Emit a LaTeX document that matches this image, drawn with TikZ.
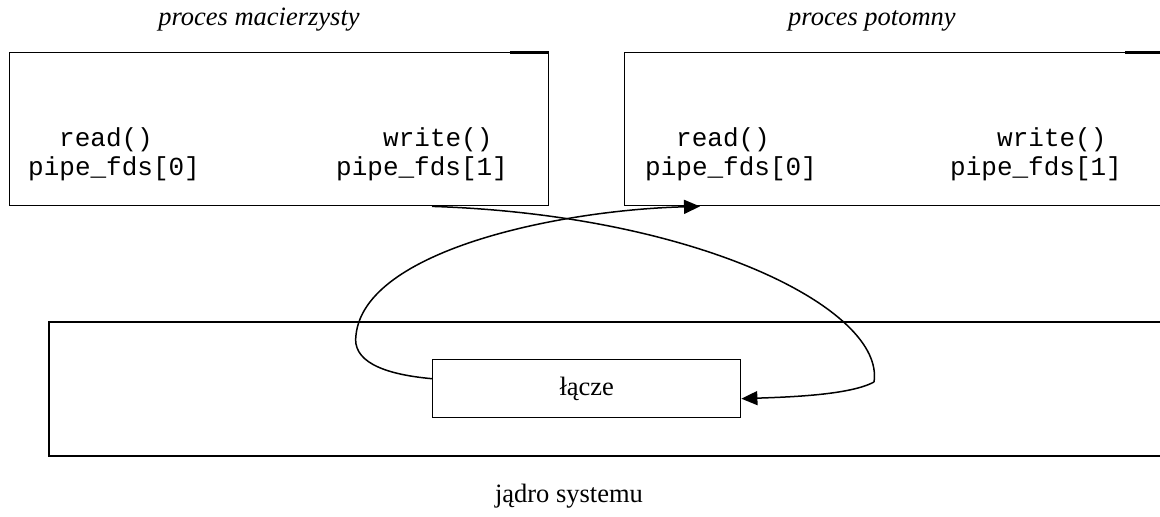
\documentclass[tikz,border=0pt]{standalone}
\usepackage{fontspec}
\setmainfont{Liberation Serif}
\setmonofont{Liberation Mono}
\usetikzlibrary{arrows.meta}
\begin{document}
\begin{tikzpicture}[x=1pt,y=-1pt,
  box/.style={draw, line width=1.4pt, rectangle, inner sep=0pt, anchor=north west},
  conn/.style={line width=1.5pt},
  tipend/.style={-{Triangle[length=16pt,width=14pt]}},
  code/.style={font=\fontsize{26}{30}\selectfont\ttfamily, anchor=base west, inner sep=0pt},
  lbl/.style={font=\fontsize{26.5}{30}\selectfont, anchor=base, inner sep=0pt}]
\useasboundingbox (0,0) rectangle (1160,517);
\clip (0,0) rectangle (1160,517);
% process boxes
\node[box, minimum width=539pt, minimum height=153pt] (parent) at (9,52) {};
\node[box, minimum width=539pt, minimum height=153pt] (child) at (624,52) {};
\draw[line width=3pt] ([xshift=-39pt]parent.north east) -- (parent.north east);
\draw[line width=3pt] ([xshift=-39pt]child.north east) -- (child.north east);
% kernel
\node[box, line width=2pt, minimum width=1140pt, minimum height=134pt] (kernel) at (48,321) {};
\node[box, minimum width=308pt, minimum height=58pt, font=\fontsize{26.5}{30}\selectfont] (pipe) at (432,359) {łącze};
% labels
\node[lbl, font=\fontsize{26.5}{30}\selectfont\itshape] (lparent) at (259,25) {proces macierzysty};
\node[lbl, font=\fontsize{26.5}{30}\selectfont\itshape] (lchild) at (872,25) {proces potomny};
\node[lbl] (lkernel) at (569,502) {jądro systemu};
% code texts
\node[code] (pr) at (59,146) {read()};
\node[code] (pf0) at (28,175) {pipe\_fds[0]};
\node[code] (pw) at (383,146) {write()};
\node[code] (pf1) at (336,175) {pipe\_fds[1]};
\node[code] (cr) at (676,146) {read()};
\node[code] (cf0) at (645,175) {pipe\_fds[0]};
\node[code] (cw) at (997,146) {write()};
\node[code] (cf1) at (950,175) {pipe\_fds[1]};
% connector ends
\coordinate (aStart) at ([yshift=10pt]pipe.west);
\coordinate (aEnd) at ([xshift=76pt]child.south west);
\coordinate (bStart) at ([xshift=423pt]parent.south west);
\coordinate (bKink) at (874,382);
\coordinate (bEnd) at ([yshift=-10pt]pipe.east);
\draw[conn, tipend] (aStart) .. controls (380,374) and (352,360) .. (356,335)
  .. controls (365,250) and (560,210) .. (aEnd);
\draw[conn] (bStart) .. controls (700,215) and (885,310) .. (bKink);
\draw[conn, tipend] (bKink) .. controls (850,395) and (790,397) .. (bEnd);
\end{tikzpicture}
\end{document}
